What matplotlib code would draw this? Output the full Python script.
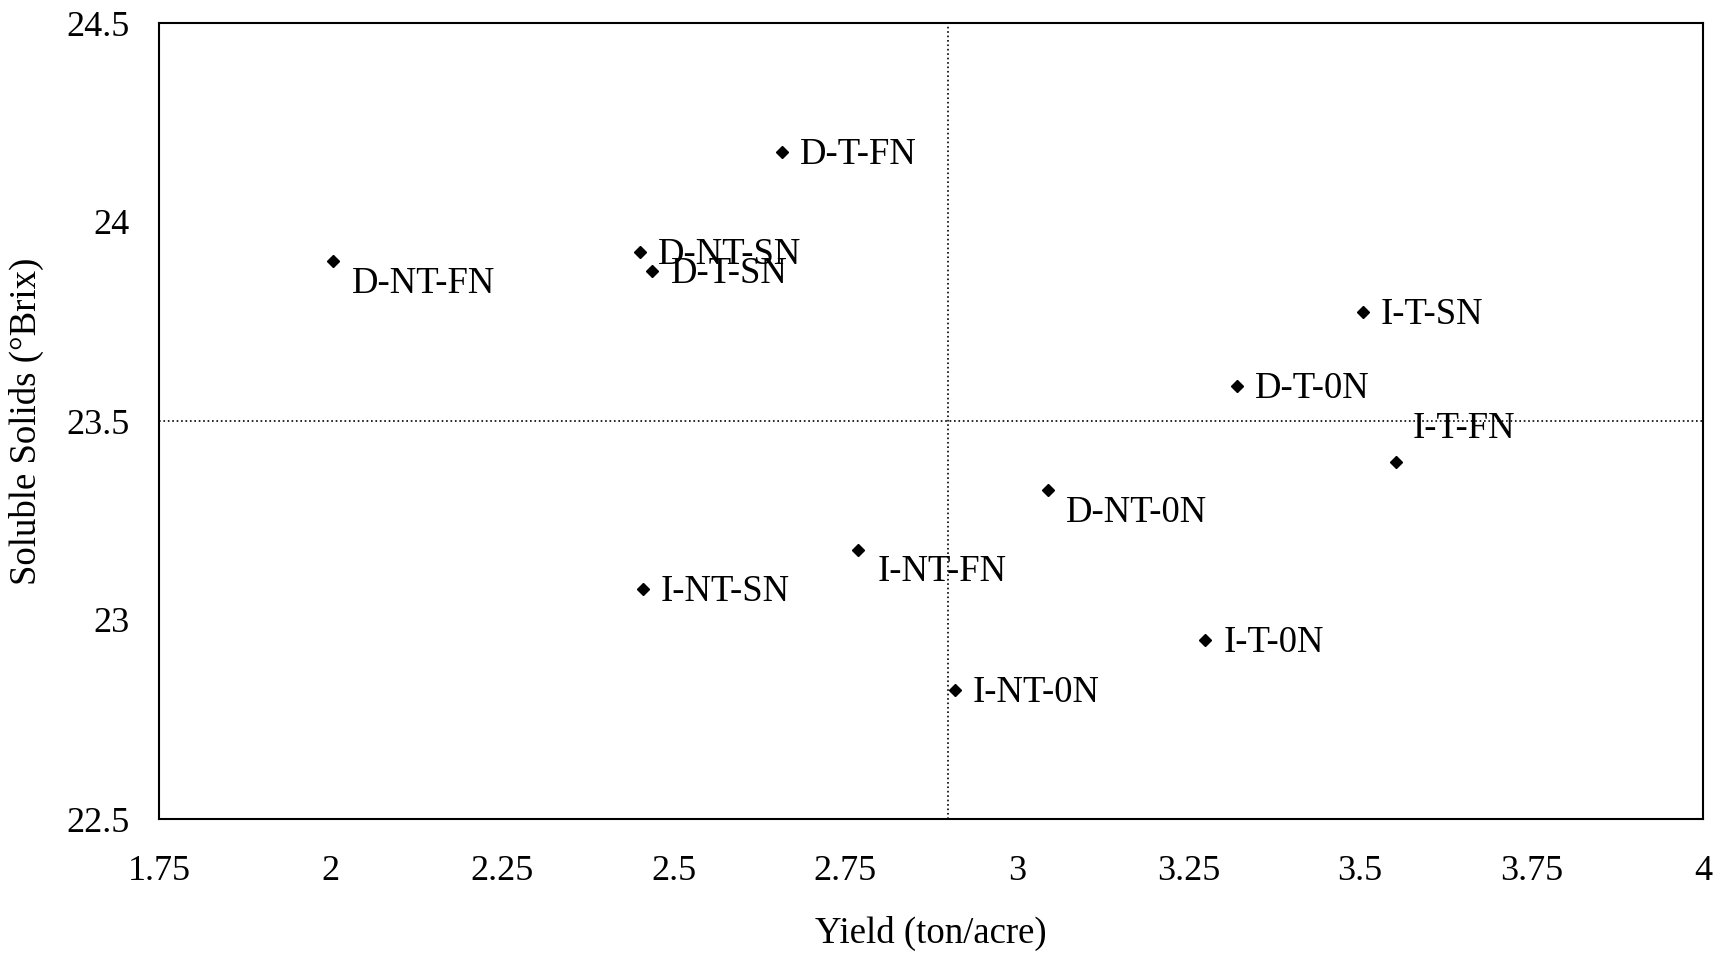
import matplotlib.pyplot as plt

# treatment labels and values
labels = ['D-T-FN', 'D-NT-FN', 'D-NT-SN', 'D-T-SN', 'I-T-SN', 'D-T-0N',
          'I-T-FN', 'D-NT-0N', 'I-NT-FN', 'I-NT-SN', 'I-T-0N', 'I-NT-0N']
yield_ton = [2.658, 2.003, 2.451, 2.469, 3.504, 3.321,
             3.552, 3.046, 2.769, 2.455, 3.275, 2.910]
brix = [24.177, 23.903, 23.925, 23.876, 23.773, 23.588,
        23.398, 23.326, 23.177, 23.077, 22.950, 22.823]

# label offsets in points (right of the marker, a few moved down or up)
offsets = {'D-NT-FN': (14, -17), 'I-T-FN': (12, 24), 'D-NT-0N': (13, -16),
           'I-NT-FN': (14, -16)}

mean_x = 2.9
mean_y = 23.5

plt.rcParams['font.family'] = ['Liberation Serif', 'DejaVu Serif']

fig = plt.figure(figsize=(17.23, 9.56), dpi=100)
ax = fig.add_axes([159 / 1723, 1 - 819 / 956, (1703 - 159) / 1723, (819 - 23) / 956])

ax.axvline(mean_x, color='black', linestyle=':', linewidth=1.2)
ax.axhline(mean_y, color='black', linestyle=':', linewidth=1.2)

ax.plot(yield_ton, brix, linestyle='none', marker='D', markersize=6.5, color='black')

for lab, x, y in zip(labels, yield_ton, brix):
    dx, dy = offsets.get(lab, (13, -2))
    ax.annotate(lab, (x, y), xytext=(dx, dy), textcoords='offset points',
                ha='left', va='center', fontsize=26.5)

ax.set_xlim(1.75, 4)
ax.set_ylim(22.5, 24.5)
ax.set_xticks([1.75, 2, 2.25, 2.5, 2.75, 3, 3.25, 3.5, 3.75, 4])
ax.set_xticklabels(['1.75', '2', '2.25', '2.5', '2.75', '3', '3.25', '3.5', '3.75', '4'])
ax.set_yticks([22.5, 23, 23.5, 24, 24.5])
ax.set_yticklabels(['22.5', '23', '23.5', '24', '24.5'])
ax.tick_params(length=0, labelsize=26)
ax.tick_params(axis='x', pad=26)
ax.tick_params(axis='y', pad=21)

for s in ax.spines.values():
    s.set_linewidth(1.5)

ax.set_xlabel('Yield (ton/acre)', fontsize=26.5, labelpad=20)
ax.set_ylabel('Soluble Solids (°Brix)', fontsize=26.5, labelpad=16)

fig.savefig('out.png', dpi=100, facecolor='white')
